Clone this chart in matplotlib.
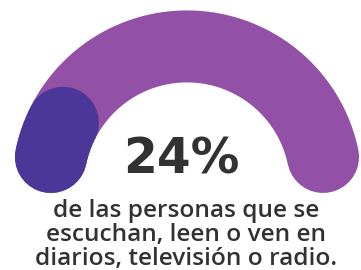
import numpy as np
import matplotlib
matplotlib.use("Agg")
import matplotlib.pyplot as plt

# data
value = 24
total = 100
value_label = "24%"
caption_lines = ["de las personas que se", "escuchan, leen o ven en", "diarios, televisión o radio."]

track_color = "#9350a7"
value_color = "#4a3797"
text_color = "#333132"

W, H = 361, 270
fig = plt.figure(figsize=(W / 100, H / 100), dpi=100)
ax = fig.add_axes([0, 0, 1, 1])
ax.set_xlim(0, W)
ax.set_ylim(H, 0)
ax.axis("off")

# gauge geometry (pixel units)
cx, cy = 187.0, 185.4
R = 139.0
w = 72.0
a_start, a_end = 168.2, 11.8
lw_pt = w * 72 / 100

def arc(a0, a1, color):
    t = np.radians(np.linspace(a0, a1, 200))
    ax.plot(cx + R * np.cos(t), cy - R * np.sin(t), color=color,
            lw=lw_pt, solid_capstyle="round")

arc(a_start, a_end, track_color)

# value portion measured along visible length (caps included)
cap_deg = np.degrees((w / 2) / R)
total_deg = (a_start - a_end) + 2 * cap_deg
tip_start = a_start + cap_deg
dark_tip = tip_start - value / total * total_deg
arc(a_start, dark_tip + cap_deg, value_color)

ax.text(181, 173, value_label, ha="center", va="baseline", fontsize=35,
        fontweight="heavy", family="DejaVu Sans", color=text_color)

ys = [217, 241, 265]
for y, line in zip(ys, caption_lines):
    ax.text(186, y, line, ha="center", va="baseline", fontsize=17.6,
            family="Open Sans", fontweight="semibold", color=text_color)

fig.savefig("out.png", dpi=100)
